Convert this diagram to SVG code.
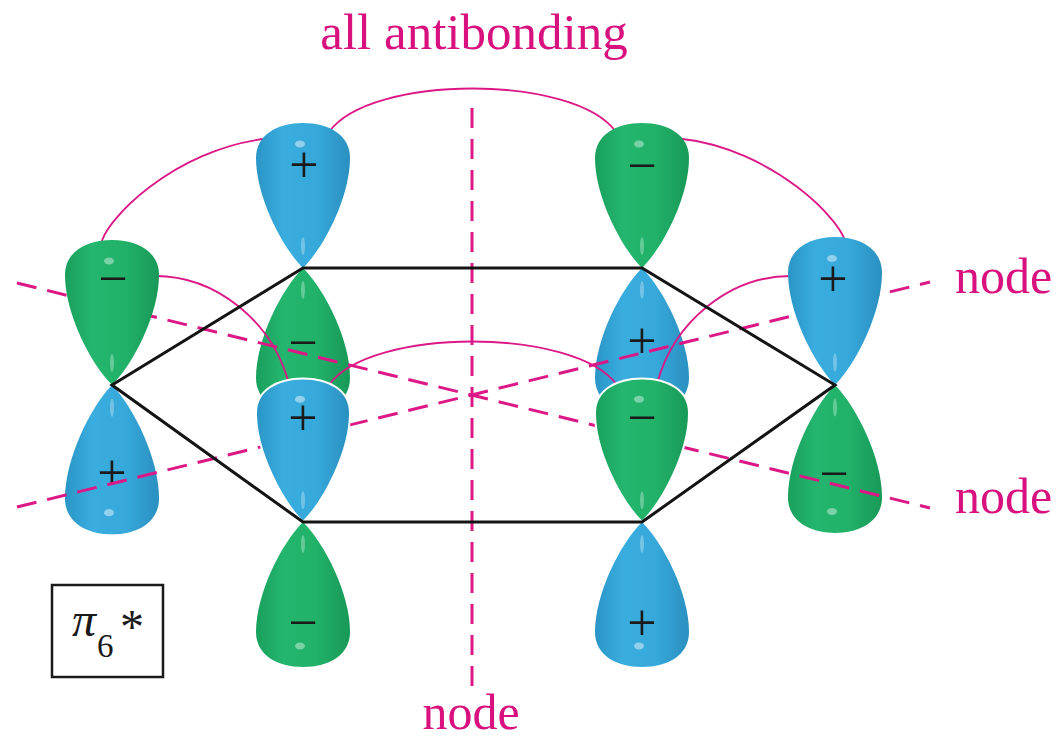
<svg xmlns="http://www.w3.org/2000/svg" xmlns:xlink="http://www.w3.org/1999/xlink" width="1062" height="739" viewBox="0 0 1062 739">
<style>
.mag{stroke:#DC1786;fill:none}
.dash{stroke-width:3;stroke-dasharray:20 11}
.arc{stroke-width:1.8}
.bond{stroke:#141414;stroke-width:3;fill:none;stroke-linejoin:miter}
.lbl{fill:#D8117F}
.sign{font-size:52px;fill:#1a1a1a;text-anchor:middle}
.rim{fill:none;stroke:#fff;stroke-width:2}
</style>
<defs>
<linearGradient id="gB" x1="0" y1="0" x2="1" y2="0">
<stop offset="0" stop-color="#2a95c6"/>
<stop offset="0.3" stop-color="#3aaddf"/>
<stop offset="0.65" stop-color="#36a8da"/>
<stop offset="1" stop-color="#2a90c0"/>
</linearGradient>
<linearGradient id="gG" x1="0" y1="0" x2="1" y2="0">
<stop offset="0" stop-color="#19a05c"/>
<stop offset="0.3" stop-color="#24b66e"/>
<stop offset="0.65" stop-color="#21b169"/>
<stop offset="1" stop-color="#189957"/>
</linearGradient>
<path id="lobe" d="M0,0 C-22,-22 -47,-72 -47,-110 C-47,-133 -26,-145 0,-145 C26,-145 47,-133 47,-110 C47,-72 22,-22 0,0 Z"/>
<g id="lobeBlue">
<use xlink:href="#lobe" href="#lobe" fill="url(#gB)"/>
<ellipse cx="-3" cy="-124" rx="5" ry="3.5" fill="#fff" opacity="0.45"/>
<ellipse cx="0" cy="-22" rx="2" ry="9" fill="#fff" opacity="0.3"/>
</g>
<g id="lobeGreen">
<use xlink:href="#lobe" href="#lobe" fill="url(#gG)"/>
<ellipse cx="-3" cy="-124" rx="5" ry="3.5" fill="#fff" opacity="0.4"/>
<ellipse cx="0" cy="-22" rx="2" ry="9" fill="#fff" opacity="0.3"/>
</g>
</defs>

<rect width="1062" height="739" fill="#fff"/>

<g font-family="Liberation Serif, Tinos, Times New Roman, DejaVu Serif, serif">
<!-- lower lobes (behind) -->
<g id="lobe-B-bottom"><use href="#lobeGreen" transform="translate(303,268) scale(1,-1)"/><text class="sign" x="303" y="360">−</text></g>
<g id="lobe-C-bottom"><use href="#lobeBlue" transform="translate(642,268) scale(1,-1)"/><text class="sign" x="642" y="358">+</text></g>
<g id="lobe-A-bottom"><use href="#lobeBlue" transform="translate(112,385) scale(1,-1.03)"/><text class="sign" x="112" y="490">+</text></g>
<g id="lobe-D-bottom"><use href="#lobeGreen" transform="translate(835,385) scale(1,-1.02)"/><text class="sign" x="834" y="491">−</text></g>
<g id="lobe-F-bottom"><use href="#lobeGreen" transform="translate(303,522) scale(1,-1)"/><text class="sign" x="303" y="640">−</text></g>
<g id="lobe-E-bottom"><use href="#lobeBlue" transform="translate(642,522) scale(1,-1)"/><text class="sign" x="642" y="640">+</text></g>

<g id="connectors">
<g id="nodal-planes" class="mag dash">
<line x1="472" y1="108" x2="472" y2="688"/>
<line x1="17" y1="283" x2="930" y2="508"/>
<line x1="17" y1="507" x2="930" y2="282"/>
</g>
<g id="interactions" class="mag arc">
<path d="M101,246 C102,222 175,148 268,138.5"/>
<path d="M329,132 C370,74 575,74 616,132"/>
<path d="M679,138.5 C772,148 845,222 846,246"/>
<path d="M155,276 C215,276 272,320 289,384"/>
<path d="M329,385 C370,327 575,327 617,385"/>
<path d="M657,384 C674,320 731,276 791,276"/>
</g>
</g>

<!-- upper lobes -->
<g id="lobe-B-top"><use href="#lobeBlue" transform="translate(303,268)"/><text class="sign" x="304" y="182">+</text></g>
<g id="lobe-C-top"><use href="#lobeGreen" transform="translate(642,268)"/><text class="sign" x="642" y="183">−</text></g>
<g id="lobe-A-top"><use href="#lobeGreen" transform="translate(112,385)"/><text class="sign" x="113" y="296">−</text></g>
<g id="lobe-D-top"><use href="#lobeBlue" transform="translate(835,385) scale(1,1.02)"/><text class="sign" x="833" y="296">+</text></g>
<g id="lobe-F-top"><use href="#lobeBlue" transform="translate(303,522) scale(1,0.99)"/><use href="#lobe" class="rim" transform="translate(303,522) scale(1,0.99)"/><text class="sign" x="303" y="435">+</text></g>
<g id="lobe-E-top"><use href="#lobeGreen" transform="translate(642,522) scale(1,0.99)"/><use href="#lobe" class="rim" transform="translate(642,522) scale(1,0.99)"/><text class="sign" x="642" y="435">−</text></g>

<g id="ring">
<polygon class="bond" points="112,385 303,268 642,268 835,385 642,522 303,522"/>
</g>

<g id="labels">
<text class="lbl" x="474" y="49" font-size="51" text-anchor="middle">all antibonding</text>
<text class="lbl" x="955" y="293" font-size="50">node</text>
<text class="lbl" x="955" y="513" font-size="50">node</text>
<text class="lbl" x="471" y="729" font-size="50" text-anchor="middle">node</text>
</g>

<g id="label-box">
<rect x="52" y="585" width="111" height="92" fill="none" stroke="#1a1a1a" stroke-width="2.5"/>
<text fill="#1a1a1a"><tspan x="72" y="636" font-size="48" font-style="italic">π</tspan><tspan x="97" y="657" font-size="33">6</tspan><tspan x="120" y="643" font-size="48">*</tspan></text>
</g>
</g>
</svg>
